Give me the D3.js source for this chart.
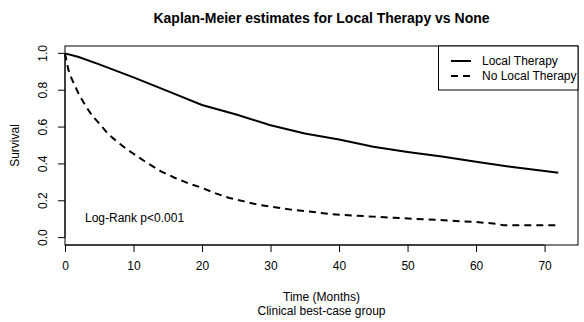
<!DOCTYPE html>
<html>
<head>
<meta charset="utf-8">
<script src="https://cdn.jsdelivr.net/npm/d3@7"></script>
<style>
  body { margin: 0; background: #fff; }
  text { font-family: "Liberation Sans", Arial, sans-serif; fill: #000; }
</style>
</head>
<body>
<div id="chart"></div>
<script>
const title = 'Kaplan-Meier estimates for Local Therapy vs None';
const seriesNames = ['Local Therapy', 'No Local Therapy'];

const localT = [0, 2, 5, 10, 15, 20, 25, 30, 35, 40, 45, 50, 55, 60, 65, 70, 72];
const localS = [1.0, 0.98, 0.94, 0.87, 0.795, 0.72, 0.668, 0.61, 0.565, 0.532, 0.493, 0.465, 0.44, 0.412, 0.385, 0.362, 0.352];

const noneT = [0, 0.5, 1, 2, 3, 4, 5, 6, 7, 8, 9, 10, 12, 14, 16, 18, 20, 22, 24, 26, 28, 30, 33, 36, 39, 42, 45, 48, 51, 54, 57, 60, 63, 64, 72];
const noneS = [1.0, 0.91, 0.86, 0.78, 0.715, 0.66, 0.62, 0.575, 0.54, 0.51, 0.48, 0.455, 0.405, 0.36, 0.325, 0.295, 0.27, 0.24, 0.215, 0.198, 0.18, 0.168, 0.152, 0.14, 0.127, 0.12, 0.114, 0.108, 0.102, 0.097, 0.09, 0.085, 0.075, 0.067, 0.067];

const xTicks = [0, 10, 20, 30, 40, 50, 60, 70];
const yTicks = [0, 0.2, 0.4, 0.6, 0.8, 1.0];

const width = 584, height = 322;
const plot = { left: 65, right: 578, top: 46, bottom: 245 };

const svg = d3.select('#chart')
  .append('svg')
  .attr('width', width)
  .attr('height', height);

// R survfit style: x extended 4% on the right only, y 4% both ends
const x = d3.scaleLinear()
  .domain([0, 72 * 1.04])
  .range([plot.left, plot.right]);

const y = d3.scaleLinear()
  .domain([-0.04, 1.04])
  .range([plot.bottom, plot.top]);

const xAxis = d3.axisBottom(x)
  .tickValues(xTicks)
  .tickSize(7)
  .tickSizeOuter(0)
  .tickPadding(9)
  .tickFormat(d3.format('d'));

const yAxis = d3.axisLeft(y)
  .tickValues(yTicks)
  .tickSize(7)
  .tickSizeOuter(0)
  .tickFormat(d3.format('.1f'));

const gx = svg.append('g')
  .attr('transform', 'translate(0,' + plot.bottom + ')')
  .call(xAxis);
gx.select('.domain').attr('d', 'M' + x(0) + ',0H' + x(70));
gx.selectAll('text').style('font-size', '12px').attr('fill', '#000');

const gy = svg.append('g')
  .attr('transform', 'translate(' + plot.left + ',0)')
  .call(yAxis);
gy.select('.domain').attr('d', 'M0,' + y(0) + 'V' + y(1));
gy.selectAll('text')
  .style('font-size', '12px')
  .attr('fill', '#000')
  .attr('text-anchor', 'middle')
  .attr('transform', d => 'translate(-22,' + y(d) + ') rotate(-90)')
  .attr('x', 0)
  .attr('y', 0)
  .attr('dy', '0.35em');
gy.selectAll('.tick').attr('transform', null);
gy.selectAll('.tick line')
  .attr('transform', d => 'translate(0,' + y(d) + ')');

// plot box
svg.append('rect')
  .attr('x', plot.left)
  .attr('y', plot.top)
  .attr('width', plot.right - plot.left)
  .attr('height', plot.bottom - plot.top)
  .attr('fill', 'none')
  .attr('stroke', '#000')
  .attr('stroke-width', 1);

const line = d3.line()
  .x(d => x(d[0]))
  .y(d => y(d[1]));

svg.append('path')
  .datum(d3.zip(localT, localS))
  .attr('d', line)
  .attr('fill', 'none')
  .attr('stroke', '#000')
  .attr('stroke-width', 2);

svg.append('path')
  .datum(d3.zip(noneT, noneS))
  .attr('d', line)
  .attr('fill', 'none')
  .attr('stroke', '#000')
  .attr('stroke-width', 2)
  .attr('stroke-dasharray', '7,5');

// titles
svg.append('text')
  .attr('x', (plot.left + plot.right) / 2)
  .attr('y', 23)
  .attr('text-anchor', 'middle')
  .style('font-size', '14px')
  .style('font-weight', 'bold')
  .text(title);

svg.append('text')
  .attr('x', (plot.left + plot.right) / 2)
  .attr('y', 301)
  .attr('text-anchor', 'middle')
  .style('font-size', '12px')
  .text('Time (Months)');

svg.append('text')
  .attr('x', (plot.left + plot.right) / 2)
  .attr('y', 315)
  .attr('text-anchor', 'middle')
  .style('font-size', '12px')
  .text('Clinical best-case group');

svg.append('text')
  .attr('transform', 'translate(19,' + ((plot.top + plot.bottom) / 2) + ') rotate(-90)')
  .attr('text-anchor', 'middle')
  .style('font-size', '12px')
  .text('Survival');

svg.append('text')
  .attr('x', 85)
  .attr('y', 222)
  .style('font-size', '12px')
  .text('Log-Rank p<0.001');

// legend
const legend = svg.append('g');
legend.append('rect')
  .attr('x', 438.5)
  .attr('y', plot.top)
  .attr('width', plot.right - 438.5)
  .attr('height', 44)
  .attr('fill', '#fff')
  .attr('stroke', '#000')
  .attr('stroke-width', 1);

seriesNames.forEach((name, i) => {
  const ly = 61 + i * 15;
  legend.append('line')
    .attr('x1', 451)
    .attr('x2', 471)
    .attr('y1', ly)
    .attr('y2', ly)
    .attr('stroke', '#000')
    .attr('stroke-width', 2)
    .attr('stroke-dasharray', i === 1 ? '7,5' : null);
  legend.append('text')
    .attr('x', 482)
    .attr('y', ly)
    .attr('dy', '0.35em')
    .style('font-size', '12px')
    .text(name);
});
</script>
</body>
</html>
